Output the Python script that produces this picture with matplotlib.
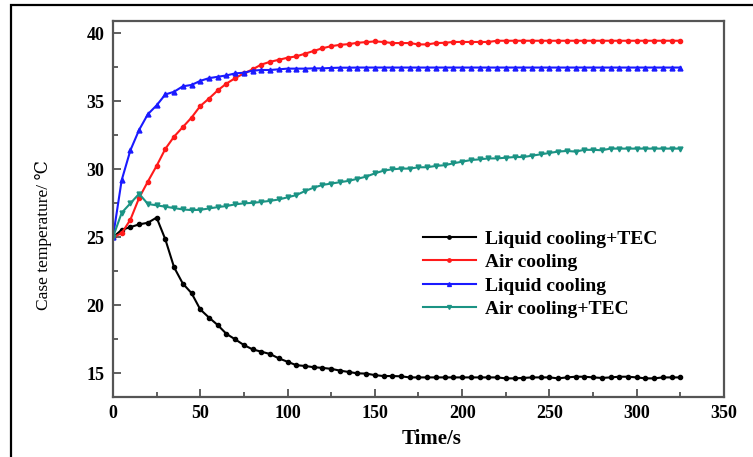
import matplotlib
matplotlib.use("Agg")
import matplotlib.pyplot as plt
from matplotlib.patches import Rectangle
from matplotlib.ticker import MultipleLocator

plt.rcParams["font.family"] = ["Liberation Serif", "DejaVu Serif"]

# time axis, one sample every 5 s
time_s = list(range(0, 330, 5))

liquid_tec = [25.0, 25.55, 25.75, 25.95, 26.07, 26.45, 24.85, 22.8, 21.6, 20.9,
              19.7, 19.1, 18.55, 17.9, 17.5, 17.08, 16.76, 16.59, 16.42, 16.1,
              15.85, 15.6, 15.54, 15.45, 15.4, 15.33, 15.2, 15.1, 15.0, 14.98,
              14.87, 14.8, 14.8, 14.78, 14.7, 14.7, 14.7, 14.7, 14.7, 14.7,
              14.7, 14.7, 14.7, 14.7, 14.7, 14.63, 14.63, 14.66, 14.7, 14.7,
              14.7, 14.63, 14.7, 14.75, 14.75, 14.7, 14.66, 14.7, 14.75, 14.75,
              14.7, 14.63, 14.63, 14.7, 14.7, 14.7]

air = [25.0, 25.3, 26.3, 27.9, 29.1, 30.25, 31.5, 32.4, 33.1, 33.8,
       34.65, 35.2, 35.8, 36.3, 36.7, 37.05, 37.35, 37.7, 37.9, 38.05,
       38.2, 38.3, 38.5, 38.7, 38.9, 39.05, 39.15, 39.2, 39.3, 39.35,
       39.4, 39.36, 39.28, 39.28, 39.28, 39.18, 39.18, 39.28, 39.3, 39.36,
       39.36, 39.36, 39.36, 39.36, 39.45, 39.45, 39.45, 39.45, 39.45, 39.45,
       39.45, 39.45, 39.45, 39.45, 39.45, 39.45, 39.45, 39.45, 39.45, 39.45,
       39.45, 39.45, 39.45, 39.45, 39.45, 39.45]

liquid = [25.0, 29.2, 31.4, 32.9, 34.05, 34.7, 35.5, 35.7, 36.1, 36.2,
          36.5, 36.7, 36.8, 36.9, 37.05, 37.1, 37.25, 37.3, 37.3, 37.35,
          37.4, 37.4, 37.4, 37.42, 37.42, 37.45, 37.47, 37.47, 37.48, 37.48,
          37.48, 37.48, 37.48, 37.48, 37.48, 37.48, 37.48, 37.48, 37.48, 37.48,
          37.48, 37.48, 37.48, 37.48, 37.48, 37.48, 37.48, 37.48, 37.48, 37.48,
          37.48, 37.48, 37.48, 37.48, 37.48, 37.48, 37.48, 37.48, 37.48, 37.48,
          37.48, 37.48, 37.48, 37.48, 37.48, 37.48]

air_tec = [25.0, 26.8, 27.5, 28.2, 27.45, 27.35, 27.25, 27.15, 27.05, 27.0,
           27.02, 27.12, 27.22, 27.3, 27.42, 27.5, 27.53, 27.6, 27.68, 27.78,
           27.94, 28.1, 28.4, 28.65, 28.85, 28.95, 29.05, 29.15, 29.3, 29.46,
           29.7, 29.9, 30.0, 30.05, 30.05, 30.15, 30.15, 30.25, 30.3, 30.44,
           30.56, 30.68, 30.73, 30.8, 30.8, 30.85, 30.9, 30.9, 31.0, 31.1,
           31.2, 31.3, 31.35, 31.3, 31.43, 31.43, 31.4, 31.52, 31.52, 31.52,
           31.52, 31.52, 31.52, 31.52, 31.52, 31.52]

fig = plt.figure(figsize=(7.53, 4.57), dpi=100)
ax = fig.add_axes([0.150, 0.131, 0.8115, 0.823])

ax.plot(time_s, liquid_tec, color="black", lw=1.5, marker="o", ms=3,
        label="Liquid cooling+TEC")
ax.plot(time_s, air, color="#ff1a1a", lw=1.5, marker="o", ms=3,
        label="Air cooling")
ax.plot(time_s, liquid, color="#1a1aff", lw=1.5, marker="^", ms=3.5,
        label="Liquid cooling")
ax.plot(time_s, air_tec, color="#1b9384", lw=1.5, marker="v", ms=3.5,
        label="Air cooling+TEC")

ax.set_xlim(0, 350)
ax.set_ylim(13.25, 40.9)
ax.xaxis.set_major_locator(MultipleLocator(50))
ax.xaxis.set_minor_locator(MultipleLocator(25))
ax.yaxis.set_major_locator(MultipleLocator(5))
ax.yaxis.set_minor_locator(MultipleLocator(2.5))
ax.tick_params(which="both", direction="in", top=False, right=False,
               color="#444444", width=1.2)
ax.tick_params(which="major", length=6, labelsize=13, pad=6)
ax.tick_params(which="minor", length=3.5)
for lab in ax.get_xticklabels() + ax.get_yticklabels():
    lab.set_fontweight("bold")
for sp in ax.spines.values():
    sp.set_color("#555555")
    sp.set_linewidth(1.6)

ax.set_xlabel("Time/s", fontsize=15, fontweight="bold")
ax.xaxis.set_label_coords(0.522, -0.085)
ax.set_ylabel("Case temperature/ \u2103", fontsize=12.5)
ax.yaxis.set_label_coords(-0.1, 0.43)

leg = ax.legend(loc="upper left", bbox_to_anchor=(0.495, 0.465), frameon=False,
                prop={"weight": "bold", "size": 14}, handlelength=2.7,
                handletextpad=0.5, labelspacing=0.3, borderaxespad=0,
                markerscale=0.8)

# outer frame of the original figure
fig.patches.append(Rectangle((11 / 753, -0.1), 1.2, 1.1 - 5 / 457,
                             transform=fig.transFigure, fill=False,
                             edgecolor="black", lw=1.6))

fig.savefig("out.png", dpi=100)
